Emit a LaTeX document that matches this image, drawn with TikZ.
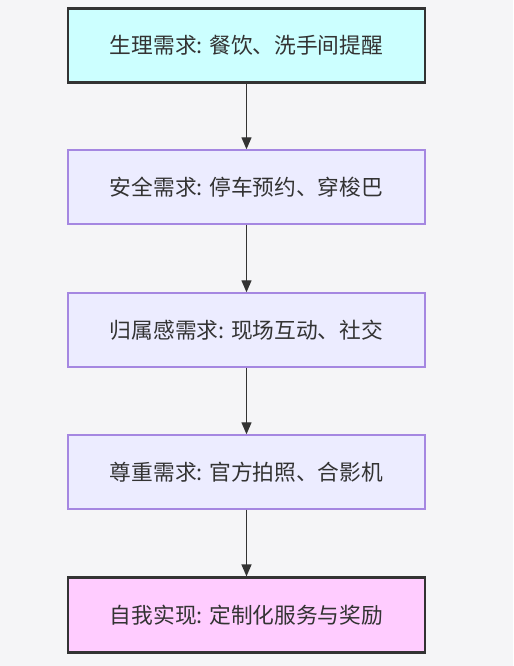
\documentclass[tikz,border=0pt]{standalone}
\usepackage{fontspec}
\newfontfamily\cjk{Noto Sans CJK SC}
\usetikzlibrary{arrows.meta}
\definecolor{bg}{RGB}{245,245,247}
\definecolor{txt}{RGB}{51,51,51}
\definecolor{cyanfill}{RGB}{204,255,255}
\definecolor{pinkfill}{RGB}{255,204,255}
\definecolor{lavfill}{RGB}{236,236,255}
\definecolor{lavline}{RGB}{165,135,225}
\tikzset{
  base/.style={rectangle, minimum width=357*0.75pt, minimum height=74*0.75pt, inner sep=0pt, font=\cjk\fontsize{16.3pt}{19pt}\selectfont, text=txt},
  endbox/.style={base, draw=txt, line width=2.2*0.75pt},
  midbox/.style={base, draw=lavline, line width=1.4*0.75pt, fill=lavfill},
  conn/.style={draw=txt, line width=1.3*0.75pt, -{Triangle[length=9pt,width=7.5pt]}}
}
\begin{document}
\begin{tikzpicture}[x=0.75pt,y=-0.75pt]
\fill[bg] (0,0) rectangle (513,666);
\useasboundingbox (0,0) rectangle (513,666);
\node[endbox, fill=cyanfill] (a) at (246.5,45.5) {生理需求: 餐饮、洗手间提醒};
\node[midbox] (b) at (246.5,187) {安全需求: 停车预约、穿梭巴};
\node[midbox] (c) at (246.5,330) {归属感需求: 现场互动、社交};
\node[midbox] (d) at (246.5,472) {尊重需求: 官方拍照、合影机};
\node[endbox, fill=pinkfill, minimum height=75*0.75pt] (e) at (246.5,615) {自我实现: 定制化服务与奖励};
\draw[conn] (a) -- (b);
\draw[conn] (b) -- (c);
\draw[conn] (c) -- (d);
\draw[conn] (d) -- (e);
\end{tikzpicture}
\end{document}
